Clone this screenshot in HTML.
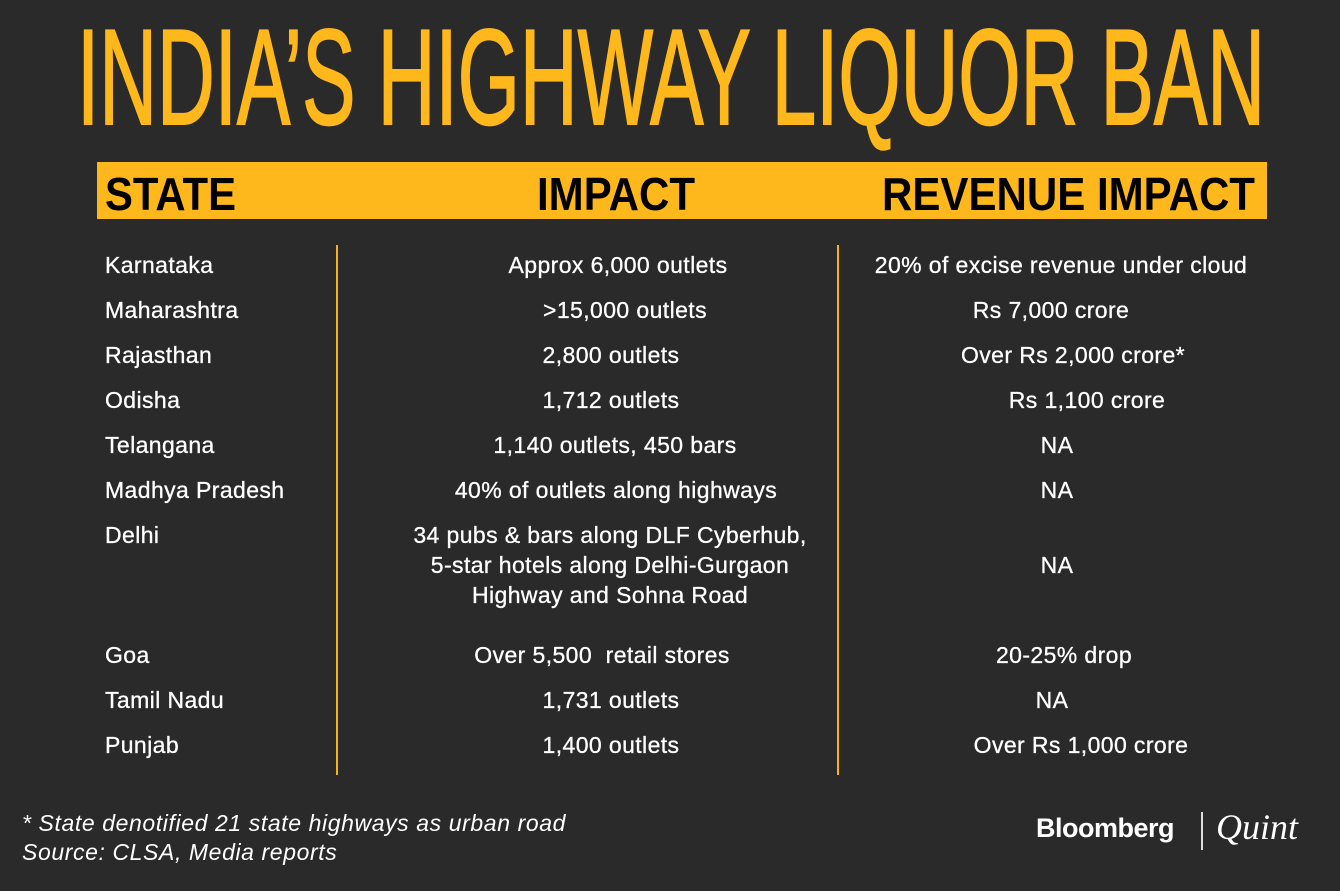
<!DOCTYPE html>
<html><head><meta charset="utf-8">
<style>
body{margin:0;width:1340px;height:891px;background:#2a2a2a;overflow:hidden;position:relative;font-family:"Liberation Sans",sans-serif;color:#fff}
.t{position:absolute;font-size:23px;white-space:nowrap;line-height:30px;letter-spacing:0.4px;-webkit-text-stroke:0.3px #fff}
.c{transform:translateX(-50%);text-align:center}
.vl{position:absolute;top:245px;height:530px;width:2px;background:#f5b21c}
.fn{position:absolute;left:22px;font-style:italic;font-size:23px;letter-spacing:0.6px}
</style></head><body>
<svg width="1340" height="230" style="position:absolute;left:0;top:0">
<text x="77" y="124" font-family="Liberation Sans" font-size="136" fill="#FFB81C" stroke="#FFB81C" stroke-width="2" textLength="1188" lengthAdjust="spacingAndGlyphs">INDIA’S HIGHWAY LIQUOR BAN</text>
<rect x="97" y="162" width="1170" height="57" fill="#FFB81C"/>
<text x="105" y="210" font-family="Liberation Sans" font-weight="bold" font-size="46" fill="#000" textLength="131" lengthAdjust="spacingAndGlyphs">STATE</text>
<text x="537" y="210" font-family="Liberation Sans" font-weight="bold" font-size="46" fill="#000" textLength="158" lengthAdjust="spacingAndGlyphs">IMPACT</text>
<text x="882" y="210" font-family="Liberation Sans" font-weight="bold" font-size="46" fill="#000" textLength="373" lengthAdjust="spacingAndGlyphs">REVENUE IMPACT</text>
</svg>
<div class="vl" style="left:336px"></div>
<div class="vl" style="left:837px"></div>
<div id="rows"></div>
<div class="fn" style="top:810px">* State denotified 21 state highways as urban road</div>
<div class="fn" style="top:839px">Source: CLSA, Media reports</div>
<div style="position:absolute;left:1036px;top:813px;font-weight:bold;font-size:27px;letter-spacing:-0.5px">Bloomberg</div>
<div style="position:absolute;left:1201px;top:812px;width:2px;height:38px;background:#ddd"></div>
<div style="position:absolute;left:1216px;top:806px;font-family:'Liberation Serif',serif;font-style:italic;font-size:36px">Quint</div>
<script>
const states=["Karnataka","Maharashtra","Rajasthan","Odisha","Telangana","Madhya Pradesh","Delhi","Goa","Tamil Nadu","Punjab"];
const impacts=["Approx 6,000 outlets",">15,000 outlets","2,800 outlets","1,712 outlets","1,140 outlets, 450 bars","40% of outlets along highways","34 pubs &amp; bars along DLF Cyberhub,<br>5-star hotels along Delhi-Gurgaon<br>Highway and Sohna Road","Over 5,500&nbsp; retail stores","1,731 outlets","1,400 outlets"];
const revenues=["20% of excise revenue under cloud","Rs 7,000 crore","Over Rs 2,000 crore*","Rs 1,100 crore","NA","NA","NA","20-25% drop","NA","Over Rs 1,000 crore"];
const rowY=[250,295,340,385,430,475,520,640,685,730];
const impX=[618,625,611,611,615,616,610,602,611,611];
const revX=[1061,1051,1073,1087,1057,1057,1057,1064,1052,1081];
const R=document.getElementById('rows');
states.forEach((s,i)=>{
  const a=document.createElement('div');a.className='t';a.style.left='105px';a.style.top=rowY[i]+'px';a.textContent=s;
  
  
  R.appendChild(a);
  const b=document.createElement('div');b.className='t c';b.style.left=impX[i]+'px';b.style.top=rowY[i]+'px';b.innerHTML=impacts[i];
  
  
  R.appendChild(b);
  const c=document.createElement('div');c.className='t c';c.style.left=revX[i]+'px';c.style.top=(rowY[i]+(i==6?30:0))+'px';c.textContent=revenues[i];
  
  
  R.appendChild(c);
});
</script>
</body></html>
